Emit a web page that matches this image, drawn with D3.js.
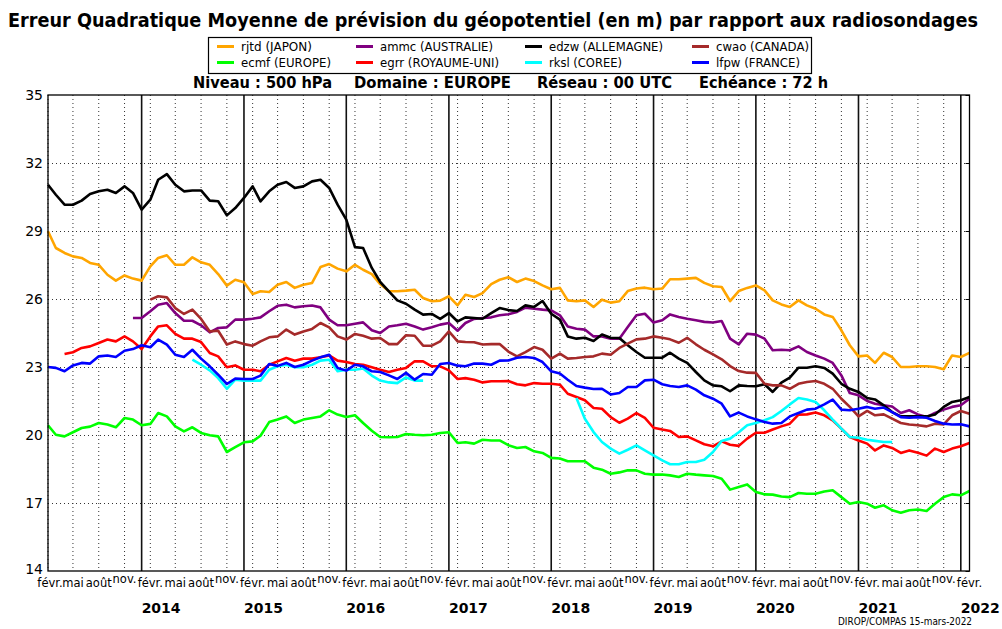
<!DOCTYPE html>
<html><head><meta charset="utf-8">
<script src="https://cdn.jsdelivr.net/npm/d3@7"></script>
<style>
html,body{margin:0;padding:0;background:#fff;}
svg{display:block;}
text{font-family:"DejaVu Sans",sans-serif;}
.cond{font-family:"DejaVu Sans Condensed","DejaVu Sans",sans-serif;}
</style></head>
<body>
<script>
// ---- data ----
const startMonth = "2013-02-01";
const endMonth = "2022-02-01";
const seriesNames = ["rjtd (JAPON)","ecmf (EUROPE)","ammc (AUSTRALIE)","egrr (ROYAUME-UNI)","edzw (ALLEMAGNE)","rksl (COREE)","cwao (CANADA)","lfpw (FRANCE)"];
const seriesColors = ["#FFA500","#00FF00","#800080","#FF0000","#000000","#00FFFF","#A52A2A","#0000FF"];
const _ = null;
const rjtd = [28.99,28.25,28.03,27.88,27.81,27.59,27.51,27.07,26.81,27.04,26.9,26.81,27.44,27.81,27.93,27.51,27.51,27.84,27.62,27.51,27.1,26.59,26.85,26.74,26.22,26.34,26.31,26.63,26.75,26.49,26.63,26.71,27.41,27.54,27.34,27.22,27.51,27.29,27.1,26.66,26.34,26.34,26.37,26.41,26.04,25.9,25.93,26.12,25.72,26.19,26.09,26.26,26.66,26.85,26.96,26.75,26.9,26.79,26.6,26.43,26.49,25.94,25.9,25.94,25.65,25.97,25.84,25.9,26.35,26.46,26.5,26.43,26.46,26.87,26.87,26.9,26.93,26.71,26.56,26.53,25.91,26.35,26.49,26.6,26.38,25.94,25.76,25.65,25.94,25.72,25.57,25.32,25.21,24.62,23.96,23.47,23.51,23.18,23.63,23.44,23.0,23.0,23.03,23.03,23.0,22.9,23.51,23.44,23.62];
const ecmf = [20.43,20.01,19.94,20.12,20.31,20.37,20.53,20.46,20.34,20.75,20.68,20.43,20.49,20.97,20.82,20.38,20.16,20.34,20.09,19.99,19.94,19.25,19.46,19.68,19.72,19.97,20.57,20.68,20.82,20.53,20.68,20.75,20.82,21.09,20.9,20.79,20.87,20.53,20.19,19.91,19.9,19.91,20.04,20.01,19.99,20.01,20.09,20.12,19.65,19.68,19.62,19.79,19.76,19.76,19.55,19.43,19.47,19.28,19.21,18.99,18.96,18.84,18.84,18.84,18.56,18.47,18.29,18.35,18.44,18.44,18.29,18.25,18.26,18.22,18.15,18.29,18.25,18.22,18.19,18.07,17.59,17.71,17.82,17.49,17.38,17.37,17.29,17.26,17.44,17.41,17.41,17.51,17.56,17.26,16.97,17.04,16.97,16.79,16.9,16.68,16.57,16.68,16.71,16.65,16.97,17.26,17.38,17.34,17.53];
const ammc = [_,_,_,_,_,_,_,_,_,_,25.16,25.16,25.46,25.75,25.82,25.38,25.04,25.04,24.84,24.53,24.72,24.75,25.09,25.09,25.13,25.19,25.46,25.7,25.75,25.63,25.68,25.71,25.63,25.09,24.84,24.84,24.91,24.97,24.62,24.5,24.79,24.84,24.91,24.79,24.65,24.75,24.87,24.94,24.6,24.94,25.12,25.16,25.19,25.28,25.33,25.43,25.62,25.57,25.53,25.5,25.28,24.79,24.69,24.65,24.35,24.35,24.25,24.25,24.76,25.28,25.35,24.96,25.06,25.32,25.21,25.13,25.06,24.99,24.96,25.03,24.25,24.0,24.47,24.43,24.25,23.74,23.76,23.74,23.91,23.66,23.51,23.37,23.18,22.63,21.85,21.75,21.5,21.38,21.31,21.26,20.97,21.09,20.91,20.79,20.97,21.12,21.24,21.31,21.6];
const egrr = [_,_,23.57,23.65,23.84,23.91,24.06,24.21,24.13,24.35,24.13,23.79,24.35,24.79,24.84,24.46,24.25,24.25,24.1,23.62,23.47,22.99,23.07,22.88,22.88,22.81,23.1,23.25,23.4,23.28,23.37,23.37,23.43,23.51,23.28,23.22,23.13,23.1,22.99,22.88,22.78,22.88,22.96,23.25,23.25,23.03,23.03,22.85,22.47,22.51,22.44,22.32,22.37,22.37,22.38,22.24,22.19,22.29,22.26,22.26,22.22,21.82,21.68,21.53,21.19,21.16,20.79,20.54,20.72,20.97,20.76,20.32,20.24,20.18,19.91,19.94,19.76,19.59,19.5,19.72,19.57,19.52,19.84,20.1,20.1,20.24,20.38,20.5,20.9,20.91,20.99,20.87,20.65,20.28,19.91,19.76,19.62,19.32,19.54,19.43,19.21,19.32,19.22,19.09,19.4,19.25,19.4,19.5,19.65];
const edzw = [31.04,30.6,30.16,30.16,30.34,30.63,30.75,30.82,30.68,30.97,30.68,29.94,30.38,31.26,31.51,31.04,30.75,30.79,30.79,30.34,30.31,29.69,30.01,30.46,30.97,30.31,30.75,31.04,31.16,30.9,30.97,31.19,31.26,30.9,30.16,29.5,28.29,28.25,27.37,26.75,26.34,25.94,25.79,25.53,25.31,25.34,25.12,25.38,25.01,25.19,25.16,25.13,25.38,25.6,25.51,25.47,25.72,25.65,25.91,25.35,25.09,24.35,24.25,24.29,24.15,24.43,24.29,24.28,23.96,23.66,23.41,23.41,23.41,23.63,23.37,23.18,22.78,22.41,22.19,22.15,21.93,22.19,22.16,22.15,22.24,21.9,22.31,22.53,22.97,22.97,23.03,22.96,22.71,22.26,22.04,21.9,21.63,21.57,21.31,21.01,20.82,20.82,20.82,20.82,20.9,21.24,21.46,21.53,21.68];
const rksl = [_,_,_,_,_,_,_,_,_,_,_,_,_,_,_,_,_,23.32,23.1,22.85,22.51,22.04,22.44,22.4,22.4,22.4,22.88,23.03,23.1,22.99,22.99,23.1,23.28,23.32,22.81,22.88,22.88,22.93,22.62,22.4,22.32,22.29,22.54,22.4,22.4,_,_,_,_,_,_,_,_,_,_,_,_,_,_,_,_,_,21.63,20.72,20.13,19.69,19.4,19.18,19.35,19.54,19.32,19.1,18.88,18.71,18.71,18.81,18.81,18.91,19.25,19.74,19.84,20.12,20.43,20.53,20.65,20.79,21.06,21.35,21.63,21.57,21.46,21.09,20.68,20.28,19.91,19.88,19.79,19.74,19.69,19.69,_,_,_,_,_,_,_,_,_];
const cwao = [_,_,_,_,_,_,_,_,_,_,_,_,25.97,26.12,26.07,25.6,25.34,25.53,25.12,24.57,24.6,23.99,24.13,24.01,23.94,24.13,24.31,24.35,24.65,24.43,24.57,24.68,24.94,24.75,24.35,24.21,24.46,24.38,24.25,24.28,24.01,24.01,24.4,24.38,23.94,23.94,24.13,24.57,24.13,24.1,24.09,23.99,24.01,24.01,23.68,23.47,23.66,23.88,23.76,23.37,23.59,23.37,23.4,23.44,23.47,23.59,23.54,23.84,24.03,24.22,24.25,24.35,24.29,24.22,24.07,24.29,24.0,23.76,23.56,23.34,23.04,22.82,22.75,22.74,22.26,22.19,22.19,22.04,22.26,22.34,22.38,22.26,22.04,21.6,21.24,20.82,21.06,20.87,20.91,20.72,20.53,20.46,20.43,20.38,20.5,20.47,20.87,21.06,20.94];
const lfpw = [23.0,22.96,22.81,23.07,23.18,23.15,23.47,23.51,23.44,23.72,23.79,23.96,23.87,24.21,23.99,23.54,23.44,23.76,23.37,23.03,22.66,22.25,22.49,22.47,22.47,22.62,23.13,23.05,23.18,23.0,23.1,23.28,23.43,23.54,22.96,22.84,23.1,23.03,22.81,22.78,22.63,22.47,22.74,22.44,22.69,22.66,23.13,23.18,23.06,23.03,23.15,23.15,23.1,23.28,23.29,23.41,23.44,23.4,23.22,22.81,22.71,22.44,22.16,22.09,22.03,22.04,21.79,21.85,22.12,22.12,22.41,22.44,22.24,22.16,22.12,22.19,22.0,21.75,21.6,21.38,20.82,20.99,20.82,20.69,20.57,20.5,20.53,20.82,20.97,21.12,21.16,21.35,21.56,21.12,21.09,21.16,21.24,21.16,21.21,21.01,20.79,20.76,20.79,20.76,20.62,20.5,20.46,20.47,20.38];
const yTicks = [14,17,20,23,26,29,32,35];
const monthLabels = {1:"févr.",4:"mai",7:"août",10:"nov."};
const yearLabels = ["2014","2015","2016","2017","2018","2019","2020","2021","2022"];
const titleText = "Erreur Quadratique Moyenne de prévision du géopotentiel (en m) par rapport aux radiosondages";
const subTexts = ["Niveau : 500 hPa","Domaine : EUROPE","Réseau : 00 UTC","Echéance : 72 h"];
const footerText = "DIROP/COMPAS 15-mars-2022";

// ---- layout ----
const W = 1002, H = 629;
const L = 48, R = 969.5, T = 95, B = 571;
const svg = d3.select("body").append("svg").attr("width", W).attr("height", H);

const t0 = new Date(startMonth + "T00:00:00Z"), t1 = new Date(endMonth + "T00:00:00Z");
const months = d3.utcMonth.range(t0, d3.utcMonth.offset(t1, 1));
const x = d3.scaleUtc().domain([t0, t1]).range([L, R]);
const y = d3.scaleLinear().domain([14, 35]).range([B, T]);

// title
svg.append("text").attr("class","cond").attr("x", 8).attr("y", 27)
  .attr("font-size", 19).attr("font-weight","bold")
  .attr("textLength", 970).attr("lengthAdjust","spacingAndGlyphs")
  .text(titleText);

// legend
const lg = svg.append("g");
lg.append("rect").attr("x",208.5).attr("y",37.5).attr("width",603).attr("height",36)
  .attr("fill","#fff").attr("stroke","#000").attr("stroke-width",1.2);
const colX = [217, 356, 525, 692];
const rowY = [46.5, 62.5];
// per-series text widths (series order)
const textLens = [71, 90, 113, 119, 114, 73, 93, 84];
seriesNames.forEach((n,k) => {
  const c = Math.floor(k/2), r = k%2;
  lg.append("line").attr("x1",colX[c]).attr("x2",colX[c]+17).attr("y1",rowY[r]).attr("y2",rowY[r])
    .attr("stroke",seriesColors[k]).attr("stroke-width",3);
  lg.append("text").attr("class","cond").attr("x",colX[c]+24).attr("y",rowY[r]+4)
    .attr("font-size",11.5).attr("textLength",textLens[k]).attr("lengthAdjust","spacingAndGlyphs").text(n);
});

// subtitle
const subX = [193, 354, 537, 699], subL = [139, 157, 135, 129];
subTexts.forEach((s,k) => {
  svg.append("text").attr("class","cond").attr("x",subX[k]).attr("y",88)
    .attr("font-size",15).attr("font-weight","bold")
    .attr("textLength",subL[k]).attr("lengthAdjust","spacingAndGlyphs").text(s);
});

// grid
const g = svg.append("g");
const tickMonths = months.filter(d => d.getUTCMonth() % 3 === 1);
g.selectAll("line.vg").data(tickMonths).join("line")
  .attr("x1", d => x(d)).attr("x2", d => x(d)).attr("y1", T).attr("y2", B)
  .attr("stroke","#333").attr("stroke-width",1).attr("stroke-dasharray","1,3");
g.selectAll("line.hg").data(yTicks.slice(1,-1)).join("line")
  .attr("x1", L).attr("x2", R).attr("y1", d => y(d)+0.5).attr("y2", d => y(d)+0.5)
  .attr("stroke","#333").attr("stroke-width",1).attr("stroke-dasharray","1,3");
const jans = months.filter(d => d.getUTCMonth() === 0);
g.selectAll("line.yr").data(jans).join("line")
  .attr("x1", d => x(d)).attr("x2", d => x(d)).attr("y1", T).attr("y2", B)
  .attr("stroke","#111").attr("stroke-width",1.6);

// series
const all = [rjtd, ecmf, ammc, egrr, edzw, rksl, cwao, lfpw];
const line = d3.line().defined(d => d.v != null).x(d => x(d.t)).y(d => y(d.v));
all.forEach((arr,k) => {
  const pts = arr.map((v,i) => ({t: months[i], v}));
  svg.append("path").datum(pts).attr("d", line).attr("fill","none")
    .attr("stroke", seriesColors[k]).attr("stroke-width", 2.6).attr("stroke-linejoin","round");
});

// frame
svg.append("rect").attr("x",L).attr("y",T).attr("width",R-L).attr("height",B-T)
  .attr("fill","none").attr("stroke","#000").attr("stroke-width",1.3);

// y axis
const ya = svg.append("g").attr("transform",`translate(${L},0)`)
  .call(d3.axisLeft(y).tickValues(yTicks).tickSize(0).tickPadding(5));
ya.select(".domain").remove();
ya.selectAll("text").attr("font-size",14).attr("font-family","DejaVu Sans, sans-serif").attr("fill","#000");
ya.selectAll(".tick").filter(d => d === 14).select("text").attr("dy","0.2em");
// right side small ticks
svg.selectAll("line.rt").data(yTicks).join("line")
  .attr("x1",R-4).attr("x2",R).attr("y1",d=>y(d)+0.5).attr("y2",d=>y(d)+0.5).attr("stroke","#000");

// x month labels
svg.selectAll("text.ml").data(tickMonths).join("text")
  .attr("x", (d,i) => x(d) + (i === 0 ? 2 : 0)).attr("y", d => d.getUTCMonth()===10 ? 583 : 587)
  .attr("text-anchor","middle").attr("font-size",11.5)
  .text(d => monthLabels[d.getUTCMonth()]);

// year labels
svg.selectAll("text.yl").data(jans).join("text")
  .attr("x", d => x(d)).attr("y", 613)
  .attr("font-size",14).attr("font-weight","bold")
  .text((d,i) => yearLabels[i]);

// footer
svg.append("text").attr("class","cond").attr("x",838).attr("y",625)
  .attr("font-size",10).attr("textLength",134).attr("lengthAdjust","spacingAndGlyphs").text(footerText);
</script>
</body></html>
